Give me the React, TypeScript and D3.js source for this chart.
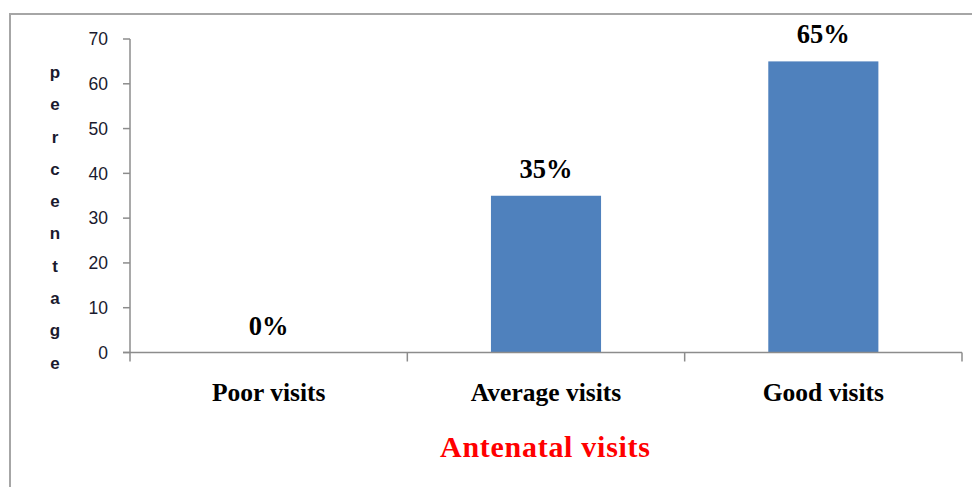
import React from "react";
import * as d3 from "d3";

const categories = ["Poor visits", "Average visits", "Good visits"];
const values = [0, 35, 65];
const valueLabels = ["0%", "35%", "65%"];
const yTicks = [0, 10, 20, 30, 40, 50, 60, 70];
const yTitle = "percentage";
const xTitle = "Antenatal visits";

export default function App() {
  const W = 972;
  const H = 487;
  const x0 = 130, x1 = 962, yTop = 39, yBottom = 352.5;
  const x = d3.scaleBand<string>().domain(categories).range([x0, x1]).paddingInner(0.603).paddingOuter(0.3015);
  const y = d3.scaleLinear().domain([0, 70]).range([yBottom, yTop]);
  const step = (x1 - x0) / categories.length;
  const catTicks = d3.range(categories.length + 1).map((i) => x0 + i * step);
  const letters = yTitle.split("");
  const serif = "'Liberation Serif', 'Times New Roman', serif";
  const sans = "'Liberation Sans', Arial, sans-serif";

  return (
    <svg width={W} height={H} style={{ position: "absolute", left: 0, top: 0, background: "#fff" }}>
      {/* outer border */}
      <line x1={10} x2={W} y1={14} y2={14} stroke="#a6a6a6" strokeWidth={2} />
      <line x1={10} x2={10} y1={13} y2={H} stroke="#a6a6a6" strokeWidth={2} />

      {/* y axis */}
      <line x1={x0} x2={x0} y1={yTop} y2={yBottom} stroke="#8c8c8c" strokeWidth={1.5} />
      {yTicks.map((t) => (
        <g key={t}>
          <line x1={123} x2={x0} y1={y(t)} y2={y(t)} stroke="#8c8c8c" strokeWidth={1.5} />
          <text x={108} y={y(t)} dy="0.36em" textAnchor="end" fontFamily={sans} fontSize={17.5} fill="#1a1a2e">
            {t}
          </text>
        </g>
      ))}

      {/* bars */}
      {categories.map((c, i) => (
        <rect key={c} x={x(c)} y={y(values[i])} width={x.bandwidth()} height={yBottom - y(values[i])} fill="#4f81bd" />
      ))}

      {/* x axis */}
      <line x1={x0 - 7} x2={x1} y1={yBottom} y2={yBottom} stroke="#8c8c8c" strokeWidth={1.5} />
      {catTicks.map((t, i) => (
        <line key={i} x1={t} x2={t} y1={yBottom} y2={yBottom + 9} stroke="#8c8c8c" strokeWidth={1.5} />
      ))}

      {/* value labels */}
      {categories.map((c, i) => (
        <text key={c} x={(x(c) as number) + x.bandwidth() / 2} y={y(values[i]) - 18} textAnchor="middle" fontFamily={serif} fontWeight="bold" fontSize={26.5} fill="#000">
          {valueLabels[i]}
        </text>
      ))}

      {/* category labels */}
      {categories.map((c) => (
        <text key={c} x={(x(c) as number) + x.bandwidth() / 2} y={401} textAnchor="middle" fontFamily={serif} fontWeight="bold" fontSize={25.5} fill="#000">
          {c}
        </text>
      ))}

      {/* x title */}
      <text x={545} y={457} textAnchor="middle" fontFamily={serif} fontWeight="bold" fontSize={30} fill="#ff0000" textLength={210} lengthAdjust="spacing">
        {xTitle}
      </text>

      {/* y title stacked letters */}
      {letters.map((l, i) => (
        <text key={i} x={55} y={72 + i * 32.3} dy="0.35em" textAnchor="middle" fontFamily={sans} fontWeight="bold" fontSize={17} fill="#1a1a2e">
          {l}
        </text>
      ))}
    </svg>
  );
}
